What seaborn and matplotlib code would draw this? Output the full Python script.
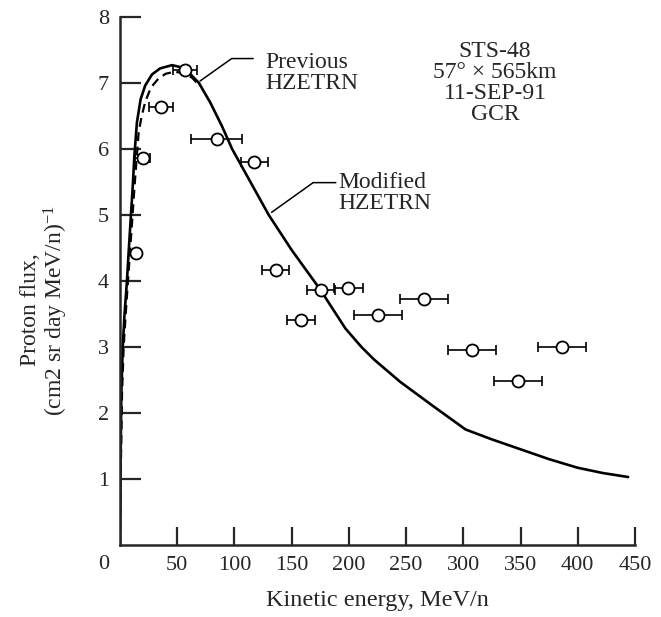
import matplotlib
matplotlib.use("Agg")
import matplotlib.pyplot as plt
import seaborn as sns
import pandas as pd

# Modified HZETRN (solid curve)
mod_x = [0, 0.5, 1.2, 2.4, 4, 6.1, 7.8, 9.6, 11.2, 12.6, 14.8, 18, 22, 28, 35, 45.5,
         53, 60, 69, 79, 89, 98, 114, 130, 150, 175, 197, 211, 222, 245, 274, 302,
         325, 350, 375, 400, 422, 444]
mod_y = [0, 1.2, 2.3, 3.0, 3.5, 4.0, 4.5, 5.0, 5.45, 5.9, 6.4, 6.75, 6.96, 7.13, 7.22, 7.27,
         7.24, 7.16, 7.0, 6.7, 6.35, 6.0, 5.5, 5.0, 4.47, 3.87, 3.28, 3.0, 2.81, 2.47, 2.10, 1.75,
         1.6, 1.45, 1.3, 1.17, 1.09, 1.03]

# Previous HZETRN (dashed curve)
prev_x = [0, 0.8, 1.8, 3.2, 5, 7, 9, 11, 12.8, 15, 16.3, 19, 22, 27, 33.8, 40, 48, 55, 63, 70]
prev_y = [0, 1.2, 2.3, 3.0, 3.5, 4.0, 4.5, 5.0, 5.45, 5.95, 6.25, 6.5, 6.71, 6.93, 7.07,
          7.14, 7.17, 7.15, 7.08, 6.95]

# STS-48 measurements
obs_x = [14, 20, 36, 57, 84.5, 117.5, 136, 158, 175.5, 199.5, 225.5, 266, 307.5, 347.5, 386.5]
obs_y = [4.42, 5.86, 6.63, 7.19, 6.15, 5.81, 4.17, 3.41, 3.87, 3.90, 3.49, 3.73, 2.95, 2.48, 3.00]
obs_xerr = [0, 6.5, 10.5, 10.5, 22, 12, 12, 12, 12, 12.5, 21, 21, 21, 21, 21]

# leader lines for the curve labels
prev_lead_x = [70, 97.6, 116.4]
prev_lead_y = [7.03, 7.37, 7.37]
mod_lead_x = [132.5, 168.8, 188.6]
mod_lead_y = [5.04, 5.49, 5.49]

sns.set_style("ticks")
plt.rcParams['font.family'] = ['Liberation Serif', 'DejaVu Serif']
plt.rcParams['mathtext.fontset'] = 'custom'
plt.rcParams['mathtext.rm'] = 'Liberation Serif'
plt.rcParams['mathtext.it'] = 'Liberation Serif:italic'

fig = plt.figure(figsize=(6.61, 6.17), dpi=100)
ax = fig.add_axes([0.1815, 0.1167, 0.7791, 0.8558])

mod_df = pd.DataFrame({"x": mod_x, "y": mod_y})
prev_df = pd.DataFrame({"x": prev_x, "y": prev_y})
sns.lineplot(data=mod_df, x="x", y="y", color="black", lw=1.9, estimator=None, sort=False, ax=ax)
sns.lineplot(data=prev_df, x="x", y="y", color="black", lw=1.6, estimator=None, sort=False,
             ax=ax, linestyle=(0, (4, 2.5)))

ax.errorbar(obs_x, obs_y, xerr=obs_xerr, fmt="none", ecolor="black", elinewidth=1.2,
            capsize=3.5, capthick=1.2, zorder=3)
sns.scatterplot(x=obs_x, y=obs_y, marker="o", s=75, facecolor="white", edgecolor="black",
                linewidth=1.3, zorder=4, ax=ax)

ax.plot(prev_lead_x, prev_lead_y, color="black", lw=1.1)
ax.plot(mod_lead_x, mod_lead_y, color="black", lw=1.1)
ax.text(127, 7.145, "Previous\nHZETRN", ha="left", va="center", fontsize=17, linespacing=1.0)
ax.text(190.7, 5.33, "Modified\nHZETRN", ha="left", va="center", fontsize=17, linespacing=1.0)
ax.text(327.8, 7.0, "STS-48\n57° × 565km\n11-SEP-91\nGCR", ha="center", va="center",
        fontsize=17, linespacing=1.0)

ax.set_xlim(0, 450)
ax.set_ylim(0, 8)
ax.set_xticks([50, 100, 150, 200, 250, 300, 350, 400, 450])
ax.set_yticks([1, 2, 3, 4, 5, 6, 7, 8])
ax.tick_params(axis="x", direction="in", length=13, width=1.6, pad=8, labelsize=16)
ax.tick_params(axis="y", direction="in", length=15, width=1.6, pad=8, labelsize=16)
ax.annotate("0", xy=(0, 0), xytext=(-12, -14), textcoords="offset points",
            ha="center", va="center", fontsize=16)

for side in ["top", "right"]:
    ax.spines[side].set_visible(False)
for side in ["left", "bottom"]:
    ax.spines[side].set_linewidth(1.8)

ax.set_xlabel("Kinetic energy, MeV/n", fontsize=17.5)
ax.xaxis.set_label_coords(0.5, -0.085)
ax.set_ylabel("Proton flux,\n(cm2 sr day MeV/n)$^{-1}$", fontsize=17, linespacing=1.0)
ax.yaxis.set_label_coords(-0.098, 0.445)

fig.savefig("out.png", dpi=100)
